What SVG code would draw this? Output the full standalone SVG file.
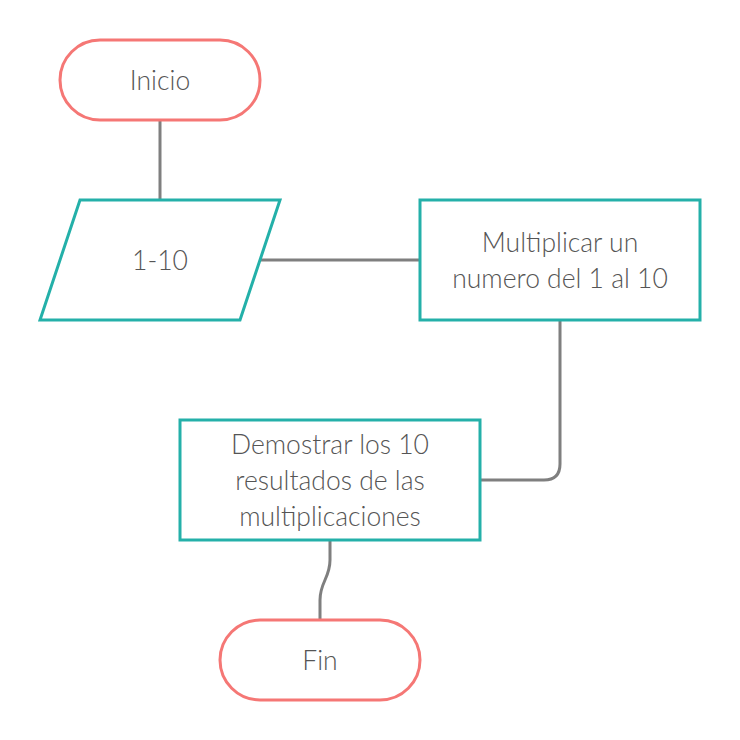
<svg xmlns="http://www.w3.org/2000/svg" width="740" height="740" viewBox="0 0 740 740">
<style>
.term{fill:#fff;stroke:#f57775;stroke-width:3}
.proc{fill:#fff;stroke:#24b0a9;stroke-width:3}
.conn{fill:none;stroke:#7f7f7f;stroke-width:3}
text{font-family:Lato,"Open Sans","Liberation Sans",sans-serif;font-weight:300;font-size:26.5px;fill:#555555;text-anchor:middle}
</style>
<rect width="740" height="740" fill="#fff"/>
<g id="connectors">
<path class="conn" d="M160 120 L160 200"/>
<path class="conn" d="M260 260 L420 260"/>
<path class="conn" d="M560 320 L560 464 Q560 480 544 480 L480 480"/>
<path class="conn" d="M330 540 L330 560 C330 578 320 582 320 600 L320 620"/>
</g>
<g id="inicio">
<rect class="term" x="60" y="40" width="200" height="80" rx="40" ry="40"/>
<text x="160" y="90">Inicio</text>
</g>
<g id="entrada">
<polygon class="proc" points="80,200 280,200 240,320 40,320"/>
<text x="160" y="270">1-10</text>
</g>
<g id="multiplicar">
<rect class="proc" x="420" y="200" width="280" height="120"/>
<text x="560" y="252">Multiplicar un</text>
<text x="560" y="288">numero del 1 al 10</text>
</g>
<g id="demostrar">
<rect class="proc" x="180" y="420" width="300" height="120"/>
<text x="330" y="454">Demostrar los 10</text>
<text x="330" y="490">resultados de las</text>
<text x="330" y="526">multiplicaciones</text>
</g>
<g id="fin">
<rect class="term" x="220" y="620" width="200" height="80" rx="40" ry="40"/>
<text x="320" y="670">Fin</text>
</g>
</svg>
